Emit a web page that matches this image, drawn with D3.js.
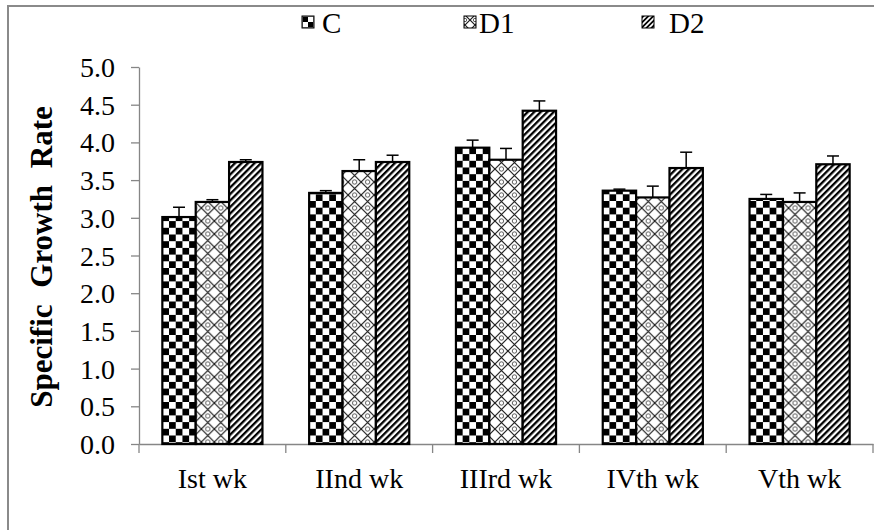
<!DOCTYPE html>
<meta charset="utf-8">
<head>
<style>
body { margin: 0; background: #fff; }
text { font-family: "Liberation Serif", "Times New Roman", serif; fill: #000; }
</style>
</head>
<script src="https://d3js.org/d3.v7.min.js"></script>
<div id="chart"></div>
<script>
// chart values
var weeks = ["Ist wk", "IInd wk", "IIIrd wk", "IVth wk", "Vth wk"];
var seriesNames = ["C", "D1", "D2"];
var valC  = [3.01, 3.33, 3.93, 3.36, 3.25];
var valD1 = [3.21, 3.62, 3.77, 3.27, 3.21];
var valD2 = [3.74, 3.74, 4.42, 3.66, 3.71];
var errC  = [0.13, 0.03, 0.10, 0.02, 0.06];
var errD1 = [0.03, 0.15, 0.15, 0.15, 0.12];
var errD2 = [0.03, 0.09, 0.13, 0.21, 0.11];
var yTicks = [0, 0.5, 1, 1.5, 2, 2.5, 3, 3.5, 4, 4.5, 5];

var values = [valC, valD1, valD2];
var errors = [errC, errD1, errD2];

var W = 874, H = 530;
var svg = d3.select("#chart").append("svg")
  .attr("width", W).attr("height", H);

// ---- patterns ----
var defs = svg.append("defs");
function checker(id, s) {
  var p = defs.append("pattern").attr("id", id)
    .attr("patternUnits", "userSpaceOnUse").attr("width", 2 * s).attr("height", 2 * s);
  p.append("rect").attr("width", 2 * s).attr("height", 2 * s).attr("fill", "#fff");
  p.append("rect").attr("width", s).attr("height", s).attr("fill", "#000");
  p.append("rect").attr("x", s).attr("y", s).attr("width", s).attr("height", s).attr("fill", "#000");
}
function lattice(id, s) {
  var p = defs.append("pattern").attr("id", id)
    .attr("patternUnits", "userSpaceOnUse").attr("width", s).attr("height", s);
  p.append("rect").attr("width", s).attr("height", s).attr("fill", "#fff");
  p.append("path").attr("d", "M0,0L" + s + "," + s + "M" + s + ",0L0," + s)
    .attr("stroke", "#1a1a1a").attr("stroke-width", 1.2).attr("fill", "none");
  p.append("circle").attr("cx", s / 2).attr("cy", 0).attr("r", s * 0.17).attr("fill", "#fff").attr("stroke", "#333").attr("stroke-width", 0.8);
  p.append("circle").attr("cx", s / 2).attr("cy", s).attr("r", s * 0.17).attr("fill", "#fff").attr("stroke", "#333").attr("stroke-width", 0.8);
}
function stripes(id, s, w) {
  var p = defs.append("pattern").attr("id", id)
    .attr("patternUnits", "userSpaceOnUse").attr("width", s).attr("height", s)
    .attr("patternTransform", "rotate(45)");
  p.append("rect").attr("width", s).attr("height", s).attr("fill", "#fff");
  p.append("rect").attr("width", w).attr("height", s).attr("fill", "#000");
}
checker("patC", 6.7);
lattice("patD1", 13);
stripes("patD2", 4.6, 2.3);
checker("legC", 5.5);
lattice("legD1", 10);
stripes("legD2", 3.5, 1.7);
var fills = ["url(#patC)", "url(#patD1)", "url(#patD2)"];
var legFills = ["url(#legC)", "url(#legD1)", "url(#legD2)"];

// outer frame (top and left edges visible)
svg.append("path").attr("d", "M8," + H + "L8,6L" + W + ",6")
  .attr("fill", "none").attr("stroke", "#8a8a8a").attr("stroke-width", 2);

// ---- scales ----
var x = d3.scaleBand().domain(weeks).range([139, 873])
  .paddingInner(0.318).paddingOuter(0.159);
var x1 = d3.scaleBand().domain(seriesNames).range([0, x.bandwidth()]);
var y = d3.scaleLinear().domain([0, 5]).range([444, 67]);

// ---- axes ----
var yAxis = svg.append("g").attr("transform", "translate(139,0)")
  .call(d3.axisLeft(y).tickValues(yTicks).tickFormat(d3.format(".1f"))
    .tickSize(8).tickSizeOuter(0).tickPadding(16));
yAxis.selectAll("line, path").attr("stroke", "#868686").attr("stroke-width", 1.3);
yAxis.selectAll("text").style("font-size", "28px").attr("dy", "0.34em");

var xAxis = svg.append("g").attr("transform", "translate(0,444)")
  .call(d3.axisBottom(x).tickSize(0).tickSizeOuter(0).tickPadding(0));
xAxis.select(".domain").attr("stroke", "#868686").attr("stroke-width", 1.3);
xAxis.selectAll("text").style("font-size", "28px").attr("dy", "44");
// category boundary ticks
xAxis.selectAll(".bound").data(d3.range(weeks.length + 1)).enter()
  .append("line").attr("class", "bound")
  .attr("x1", function(i) { return x.range()[0] + i * x.step(); })
  .attr("x2", function(i) { return x.range()[0] + i * x.step(); })
  .attr("y1", 0).attr("y2", 9)
  .attr("stroke", "#868686").attr("stroke-width", 1.3);

// ---- bars ----
var groups = svg.append("g").selectAll("g").data(weeks).enter().append("g")
  .attr("transform", function(d) { return "translate(" + x(d) + ",0)"; });

groups.each(function(w, wi) {
  var g = d3.select(this);
  seriesNames.forEach(function(s, si) {
    var v = values[si][wi], e = errors[si][wi];
    var cx = x1(s) + x1.bandwidth() / 2;
    // error bar (upper only)
    g.append("line").attr("x1", cx).attr("x2", cx)
      .attr("y1", y(v)).attr("y2", y(v + e))
      .attr("stroke", "#000").attr("stroke-width", 1.5);
    g.append("line").attr("x1", cx - 6).attr("x2", cx + 6)
      .attr("y1", y(v + e)).attr("y2", y(v + e))
      .attr("stroke", "#000").attr("stroke-width", 1.5);
    g.append("rect")
      .attr("x", x1(s)).attr("y", y(v))
      .attr("width", x1.bandwidth()).attr("height", y(0) - y(v))
      .attr("fill", fills[si])
      .attr("stroke", "#000").attr("stroke-width", 2.2);
  });
});

// ---- y title ----
svg.append("text")
  .attr("transform", "translate(52,257) rotate(-90)")
  .attr("text-anchor", "middle")
  .style("font-size", "31px").style("font-weight", "bold")
  .style("word-spacing", "9px")
  .text("Specific Growth Rate");

// ---- legend ----
var legX = [302, 464, 642];
var legTextX = [322, 479, 669];
var legend = svg.append("g").selectAll("g").data(seriesNames).enter().append("g");
legend.append("rect")
  .attr("x", function(d, i) { return legX[i]; }).attr("y", 16)
  .attr("width", 12).attr("height", 12)
  .attr("fill", function(d, i) { return legFills[i]; })
  .attr("stroke", "#000").attr("stroke-width", 1);
legend.append("text")
  .attr("x", function(d, i) { return legTextX[i]; }).attr("y", 33)
  .style("font-size", "29px")
  .text(function(d) { return d; });
</script>
